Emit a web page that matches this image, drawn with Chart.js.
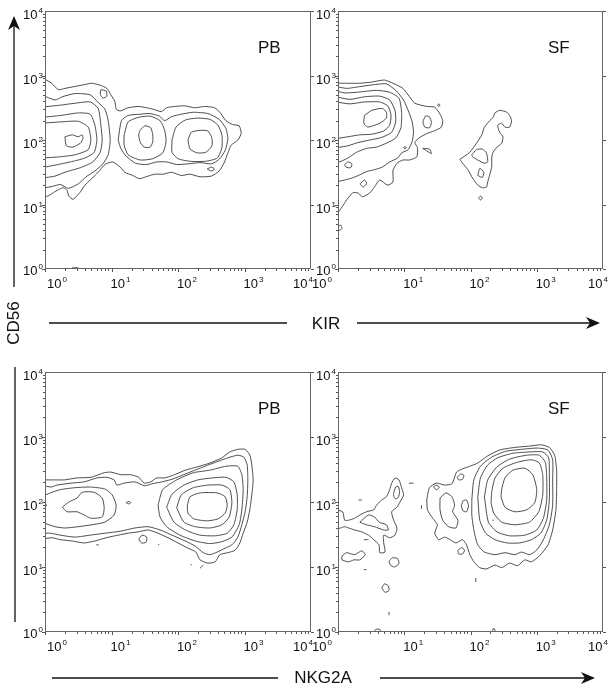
<!DOCTYPE html>
<html>
<head>
<meta charset="utf-8">
<script src="https://cdn.jsdelivr.net/npm/chart.js@4.4.0/dist/chart.umd.min.js"></script>
<style>
  html, body { margin: 0; padding: 0; background: #fff; overflow: hidden; }
  #page { position: relative; width: 611px; height: 691px; font-family: "Liberation Sans", Arial, sans-serif; }
  #page canvas { position: absolute; }
  #arrows { position: absolute; left: 0; top: 0; }
  .title { position: absolute; font-size: 17px; color: #111; white-space: nowrap; transform: translate(-50%, -50%); }
</style>
</head>
<body>
<div id="page">
  <canvas id="pbKir" width="323" height="293" style="left:0px;top:0px"></canvas>
  <canvas id="sfKir" width="318" height="293" style="left:293px;top:0px"></canvas>
  <canvas id="pbNkg" width="323" height="295" style="left:0px;top:361px"></canvas>
  <canvas id="sfNkg" width="318" height="295" style="left:293px;top:361px"></canvas>
  <svg id="arrows" width="611" height="691">
    <g stroke="#111" stroke-width="1.3">
      <line x1="14" y1="287" x2="14" y2="26"/>
      <line x1="15" y1="367" x2="15" y2="622"/>
      <line x1="49" y1="323" x2="287" y2="323"/>
      <line x1="357" y1="323" x2="590" y2="323"/>
      <line x1="52" y1="678" x2="278" y2="678"/>
      <line x1="380" y1="678" x2="585" y2="678"/>
    </g>
    <g fill="#111">
      <path d="M14,16 L20,30 L14,26 L8,30 Z"/>
      <path d="M600,323 L586,317 L590,323 L586,329 Z"/>
      <path d="M595,678 L581,672 L585,678 L581,684 Z"/>
    </g>
  </svg>
  <div class="title" id="yTitle" style="left:14px;top:323px;transform:translate(-50%,-50%) rotate(-90deg)"></div>
  <div class="title" id="xTitleTop" style="left:326px;top:324px"></div>
  <div class="title" id="xTitleBottom" style="left:323px;top:678px"></div>
</div>
<script>
// axes are log10 decades: 0 -> 10^0 ... 4 -> 10^4
const tickExponents = [0, 1, 2, 3, 4];
const panelTitles = ['PB', 'SF', 'PB', 'SF'];
const xAxisTitles = ['KIR', 'NKG2A'];
const yAxisTitle = 'CD56';

// ---- PB, CD56 vs KIR ----
const pbKirOuter = [[-0.05,2.97],[0.1,2.88],[0.2,2.78],[0.3,2.8],[0.45,2.83],[0.6,2.86],[0.7,2.88],[0.83,2.85],[0.93,2.8],[0.99,2.7],[1.05,2.6],[1.07,2.48],[1.13,2.45],[1.25,2.5],[1.4,2.52],[1.53,2.5],[1.65,2.47],[1.75,2.44],[1.83,2.5],[1.95,2.52],[2.1,2.53],[2.25,2.5],[2.4,2.52],[2.55,2.5],[2.63,2.43],[2.72,2.3],[2.82,2.24],[2.92,2.22],[2.95,2.1],[2.9,2.0],[2.8,1.92],[2.75,1.8],[2.7,1.66],[2.62,1.52],[2.5,1.44],[2.33,1.43],[2.18,1.47],[2.05,1.45],[1.9,1.5],[1.78,1.47],[1.65,1.47],[1.52,1.43],[1.42,1.4],[1.32,1.45],[1.2,1.5],[1.13,1.58],[1.02,1.66],[0.9,1.62],[0.8,1.5],[0.68,1.38],[0.6,1.3],[0.52,1.18],[0.42,1.08],[0.36,1.13],[0.33,1.22],[0.28,1.26],[0.22,1.24],[0.15,1.2],[0.06,1.14],[-0.05,1.1]];
const pbKirNotch = [[0.84,2.78],[0.92,2.76],[0.93,2.68],[0.87,2.65],[0.83,2.71],[0.84,2.78]];
const pbKirLeft2 = [[-0.05,2.70],[0.15,2.62],[0.26,2.67],[0.45,2.72],[0.68,2.70],[0.80,2.58],[0.90,2.48],[0.95,2.30],[0.98,2.0],[0.95,1.77],[0.87,1.63],[0.75,1.52],[0.62,1.43],[0.50,1.32],[0.35,1.25],[0.23,1.31],[0.11,1.28],[-0.05,1.25]];
const pbKirLeft3 = [[-0.05,2.51],[0.23,2.54],[0.45,2.57],[0.68,2.59],[0.80,2.49],[0.84,2.23],[0.86,2.0],[0.83,1.81],[0.72,1.66],[0.53,1.57],[0.30,1.50],[0.15,1.44],[-0.05,1.41]];
const pbKirLeft4 = [[-0.05,2.35],[0.23,2.38],[0.50,2.42],[0.68,2.40],[0.75,2.23],[0.78,2.0],[0.74,1.81],[0.60,1.72],[0.38,1.66],[0.15,1.61],[-0.05,1.57]];
const pbKirLeft5 = [[-0.05,2.26],[0.23,2.28],[0.50,2.29],[0.65,2.20],[0.69,2.0],[0.65,1.85],[0.45,1.77],[0.23,1.74],[-0.05,1.72]];
const pbKirLeftCore = [[0.30,2.05],[0.41,2.08],[0.50,2.05],[0.56,2.08],[0.57,2.02],[0.53,1.95],[0.42,1.89],[0.32,1.91],[0.30,2.05]];
const pbKirPair2 = [[1.10,2.0],[1.15,2.3],[1.25,2.38],[1.43,2.4],[1.58,2.41],[1.72,2.37],[1.8,2.3],[1.9,2.36],[2.05,2.4],[2.23,2.43],[2.45,2.41],[2.62,2.32],[2.72,2.18],[2.75,2.02],[2.71,1.84],[2.62,1.7],[2.5,1.63],[2.33,1.65],[2.15,1.63],[1.98,1.62],[1.83,1.66],[1.68,1.66],[1.53,1.62],[1.36,1.64],[1.22,1.75],[1.14,1.87],[1.10,2.0]];
const pbKirMid3 = [[1.19,2.08],[1.25,2.28],[1.40,2.35],[1.58,2.37],[1.73,2.30],[1.80,2.15],[1.82,1.97],[1.77,1.80],[1.62,1.71],[1.43,1.69],[1.25,1.77],[1.19,1.92],[1.19,2.08]];
const pbKirMidCore = [[1.43,2.15],[1.50,2.22],[1.59,2.19],[1.62,2.08],[1.62,1.97],[1.58,1.89],[1.49,1.89],[1.43,1.97],[1.41,2.08],[1.43,2.15]];
const pbKirRight3 = [[1.91,2.0],[1.97,2.2],[2.11,2.31],[2.29,2.34],[2.48,2.32],[2.60,2.23],[2.66,2.08],[2.66,1.88],[2.59,1.72],[2.41,1.67],[2.18,1.67],[2.0,1.71],[1.91,1.81],[1.91,2.0]];
const pbKirRightCore = [[2.15,2.0],[2.20,2.12],[2.33,2.15],[2.45,2.14],[2.51,2.03],[2.51,1.91],[2.42,1.81],[2.29,1.80],[2.18,1.86],[2.15,2.0]];
const pbKirSpeck = [[2.44,1.55],[2.5,1.58],[2.55,1.55],[2.5,1.52],[2.44,1.55]];
const pbKirFloor = [[0.41,0.02],[0.5,0.02]];

// ---- SF, CD56 vs KIR ----
const sfKirOuter = [[-0.03,2.88],[0.10,2.88],[0.33,2.88],[0.52,2.90],[0.70,2.93],[0.83,2.88],[0.98,2.80],[1.08,2.67],[1.16,2.57],[1.34,2.52],[1.46,2.51],[1.54,2.40],[1.58,2.30],[1.56,2.20],[1.45,2.14],[1.34,2.10],[1.22,2.03],[1.16,1.96],[1.20,1.88],[1.19,1.74],[1.08,1.69],[0.98,1.69],[0.89,1.64],[0.83,1.53],[0.83,1.35],[0.75,1.30],[0.63,1.38],[0.55,1.27],[0.48,1.18],[0.37,1.12],[0.30,1.18],[0.22,1.18],[0.13,1.07],[0.06,0.96],[0.01,0.89],[-0.03,0.86]];
const sfKirRing2 = [[-0.03,2.83],[0.13,2.80],[0.28,2.82],[0.48,2.85],[0.73,2.87],[0.87,2.77],[0.99,2.62],[1.07,2.43],[1.12,2.28],[1.14,2.12],[1.12,1.98],[1.06,1.85],[0.96,1.80],[0.90,1.72],[0.78,1.66],[0.67,1.58],[0.55,1.54],[0.43,1.51],[0.33,1.46],[0.21,1.41],[0.10,1.38],[-0.03,1.35]];
const sfKirRing3 = [[-0.03,2.76],[0.10,2.73],[0.28,2.74],[0.58,2.77],[0.78,2.74],[0.92,2.65],[0.96,2.43],[0.95,2.19],[0.87,2.03],[0.73,1.95],[0.58,1.89],[0.43,1.87],[0.28,1.81],[0.18,1.74],[0.09,1.69],[-0.03,1.64]];
const sfKirRing4 = [[-0.03,2.67],[0.18,2.63],[0.40,2.67],[0.63,2.68],[0.78,2.62],[0.86,2.46],[0.87,2.28],[0.81,2.12],[0.66,2.04],[0.48,2.0],[0.30,1.96],[0.15,1.91],[-0.03,1.88]];
const sfKirRing5 = [[-0.03,2.59],[0.18,2.56],[0.40,2.59],[0.63,2.59],[0.75,2.53],[0.80,2.39],[0.78,2.23],[0.69,2.14],[0.51,2.09],[0.33,2.08],[0.15,2.05],[-0.03,2.02]];
const sfKirCore = [[0.40,2.38],[0.51,2.46],[0.67,2.49],[0.73,2.43],[0.73,2.34],[0.63,2.26],[0.45,2.20],[0.39,2.26],[0.40,2.38]];
const sfKirLobe = [[1.28,2.28],[1.32,2.37],[1.38,2.36],[1.41,2.27],[1.38,2.19],[1.31,2.20],[1.28,2.28]];
const sfKirWedge = [[1.28,1.87],[1.38,1.86],[1.41,1.79],[1.34,1.83],[1.28,1.87]];
const sfKirDotA = [[0.99,1.88],[1.01,1.90],[1.03,1.88],[1.01,1.86],[0.99,1.88]];
const sfKirDotB = [[1.50,2.54],[1.52,2.56],[1.54,2.54],[1.52,2.52],[1.50,2.54]];
const sfKirLowA = [[0.10,1.62],[0.15,1.66],[0.21,1.63],[0.19,1.57],[0.12,1.58],[0.10,1.62]];
const sfKirLowB = [[0.33,1.32],[0.40,1.38],[0.43,1.33],[0.38,1.27],[0.33,1.32]];
const sfKirEdge = [[-0.01,0.65],[0.04,0.68],[0.06,0.63],[0.02,0.60],[-0.01,0.65]];
const sfKirIsland = [[1.84,1.70],[1.99,1.81],[2.09,1.95],[2.17,2.08],[2.21,2.20],[2.29,2.30],[2.34,2.35],[2.37,2.42],[2.44,2.46],[2.55,2.43],[2.59,2.38],[2.62,2.30],[2.59,2.20],[2.52,2.20],[2.47,2.26],[2.41,2.23],[2.44,2.12],[2.49,2.05],[2.47,1.95],[2.40,1.89],[2.34,1.81],[2.32,1.72],[2.32,1.58],[2.29,1.46],[2.26,1.35],[2.24,1.27],[2.18,1.26],[2.11,1.30],[2.03,1.41],[1.96,1.54],[1.88,1.64],[1.84,1.70]];
const sfKirIslandA = [[2.02,1.77],[2.09,1.85],[2.18,1.86],[2.24,1.80],[2.26,1.66],[2.21,1.64],[2.11,1.69],[2.03,1.74],[2.02,1.77]];
const sfKirIslandB = [[2.11,1.45],[2.14,1.56],[2.20,1.50],[2.18,1.42],[2.11,1.45]];
const sfKirIslandDot = [[2.12,1.10],[2.15,1.13],[2.18,1.10],[2.15,1.07],[2.12,1.10]];

// ---- PB, CD56 vs NKG2A ----
const pbNkgOuter = [[-0.05,2.34],[0.14,2.34],[0.29,2.34],[0.48,2.37],[0.69,2.38],[0.89,2.45],[0.99,2.46],[1.14,2.42],[1.29,2.42],[1.41,2.38],[1.49,2.29],[1.59,2.31],[1.68,2.37],[1.80,2.37],[1.95,2.42],[2.11,2.49],[2.29,2.54],[2.48,2.60],[2.66,2.68],[2.78,2.77],[2.90,2.81],[3.01,2.81],[3.08,2.72],[3.11,2.57],[3.13,2.34],[3.11,2.11],[3.08,1.88],[3.04,1.69],[2.98,1.52],[2.93,1.37],[2.86,1.26],[2.75,1.22],[2.63,1.19],[2.56,1.08],[2.45,1.06],[2.33,1.11],[2.27,1.23],[2.15,1.29],[2.0,1.37],[1.85,1.45],[1.70,1.52],[1.55,1.57],[1.40,1.54],[1.25,1.52],[1.10,1.49],[0.92,1.45],[0.75,1.40],[0.59,1.37],[0.41,1.40],[0.23,1.42],[0.11,1.45],[-0.05,1.43]];
const pbNkgBand2 = [[-0.05,2.26],[0.09,2.23],[0.18,2.26],[0.39,2.29],[0.59,2.31],[0.78,2.37],[0.93,2.38],[1.04,2.34],[1.08,2.26],[1.19,2.29],[1.35,2.31],[1.50,2.25],[1.61,2.28],[1.76,2.31],[1.91,2.35],[2.11,2.43],[2.33,2.52],[2.56,2.61],[2.75,2.68],[2.90,2.72],[2.99,2.69],[3.04,2.57],[3.05,2.34],[3.04,2.08],[3.01,1.85],[2.96,1.65],[2.90,1.46],[2.81,1.34],[2.71,1.29],[2.59,1.23],[2.48,1.19],[2.38,1.22],[2.26,1.32],[2.11,1.40],[1.91,1.49],[1.73,1.57],[1.55,1.62],[1.35,1.60],[1.13,1.55],[0.90,1.52],[0.68,1.49],[0.45,1.46],[0.23,1.49],[0.08,1.52],[-0.05,1.52]];
const pbNkgRight3 = [[1.70,1.95],[1.77,2.19],[1.98,2.34],[2.23,2.45],[2.48,2.49],[2.72,2.55],[2.90,2.55],[2.96,2.42],[2.98,2.19],[2.96,1.88],[2.92,1.65],[2.81,1.46],[2.66,1.39],[2.48,1.36],[2.26,1.40],[2.03,1.49],[1.83,1.62],[1.73,1.77],[1.70,1.95]];
const pbNkgRight4 = [[1.83,1.92],[1.91,2.12],[2.09,2.26],[2.30,2.34],[2.51,2.37],[2.72,2.38],[2.84,2.31],[2.89,2.11],[2.89,1.88],[2.84,1.65],[2.74,1.52],[2.56,1.48],[2.33,1.49],[2.11,1.57],[1.94,1.69],[1.83,1.92]];
const pbNkgRight5 = [[1.98,1.91],[2.05,2.11],[2.23,2.22],[2.45,2.26],[2.66,2.26],[2.78,2.19],[2.81,1.99],[2.77,1.77],[2.66,1.65],[2.48,1.60],[2.26,1.62],[2.09,1.69],[1.98,1.91]];
const pbNkgRightCore = [[2.14,1.95],[2.18,2.08],[2.33,2.14],[2.59,2.14],[2.71,2.08],[2.74,1.95],[2.71,1.83],[2.60,1.74],[2.44,1.71],[2.24,1.74],[2.15,1.83],[2.14,1.95]];
const pbNkgLeft3 = [[-0.05,2.08],[0.08,2.14],[0.23,2.19],[0.45,2.22],[0.68,2.23],[0.90,2.20],[1.01,2.11],[1.07,1.95],[1.04,1.80],[0.90,1.69],[0.71,1.65],[0.50,1.62],[0.30,1.60],[0.15,1.62],[-0.05,1.69]];
const pbNkgLeftCore = [[0.26,1.92],[0.36,2.00],[0.48,2.06],[0.56,2.15],[0.74,2.15],[0.86,2.06],[0.89,1.91],[0.86,1.77],[0.69,1.75],[0.59,1.80],[0.48,1.85],[0.33,1.85],[0.26,1.92]];
const pbNkgBelow = [[1.41,1.43],[1.46,1.49],[1.53,1.46],[1.52,1.38],[1.45,1.37],[1.41,1.43]];
const pbNkgGap = [[1.22,1.99],[1.26,2.01],[1.29,1.99],[1.26,1.97],[1.22,1.99]];
const pbNkgEdge = [[-0.05,1.98],[0.03,1.95],[-0.05,1.91]];
const pbNkgDashA = [[0.77,1.34],[0.81,1.34]];
const pbNkgDashB = [[1.70,1.34],[1.72,1.35]];
const pbNkgDashC = [[2.19,1.03],[2.21,1.04]];
const pbNkgDashD = [[2.33,0.98],[2.38,1.03]];

// ---- SF, CD56 vs NKG2A ----
const sfNkgOuter = [[1.34,2.03],[1.38,2.22],[1.49,2.29],[1.61,2.26],[1.72,2.28],[1.79,2.46],[1.88,2.51],[1.99,2.55],[2.11,2.60],[2.26,2.71],[2.44,2.80],[2.67,2.84],[2.89,2.86],[3.07,2.88],[3.19,2.84],[3.27,2.72],[3.30,2.49],[3.30,2.19],[3.29,1.88],[3.24,1.57],[3.17,1.34],[3.04,1.17],[2.92,1.08],[2.82,1.11],[2.71,1.02],[2.59,1.06],[2.47,0.99],[2.37,1.03],[2.24,0.97],[2.14,0.99],[2.05,1.08],[1.99,1.19],[1.94,1.34],[1.88,1.42],[1.78,1.37],[1.69,1.42],[1.61,1.46],[1.52,1.42],[1.46,1.52],[1.50,1.65],[1.43,1.75],[1.35,1.88],[1.34,2.03]];
const sfNkgRing2 = [[2.02,2.03],[2.05,2.34],[2.15,2.55],[2.32,2.69],[2.53,2.78],[2.77,2.81],[3.01,2.83],[3.17,2.80],[3.24,2.65],[3.24,2.34],[3.24,1.95],[3.19,1.65],[3.10,1.42],[3.00,1.26],[2.89,1.19],[2.77,1.23],[2.67,1.19],[2.52,1.22],[2.37,1.19],[2.21,1.23],[2.11,1.34],[2.05,1.57],[2.02,1.80],[2.02,2.03]];
const sfNkgRing3 = [[2.11,2.08],[2.15,2.37],[2.26,2.57],[2.41,2.68],[2.64,2.75],[2.89,2.77],[3.09,2.77],[3.18,2.68],[3.19,2.42],[3.19,2.03],[3.15,1.72],[3.06,1.52],[2.92,1.42],[2.74,1.37],[2.55,1.37],[2.37,1.42],[2.23,1.52],[2.14,1.72],[2.11,2.08]];
const sfNkgRing4 = [[2.21,2.08],[2.26,2.34],[2.40,2.54],[2.59,2.66],[2.85,2.72],[3.04,2.72],[3.13,2.61],[3.15,2.37],[3.15,2.03],[3.10,1.75],[3.00,1.57],[2.82,1.49],[2.59,1.48],[2.40,1.54],[2.27,1.69],[2.21,2.08]];
const sfNkgRing5 = [[2.31,1.99],[2.32,2.15],[2.37,2.37],[2.49,2.52],[2.70,2.61],[2.92,2.65],[3.04,2.60],[3.09,2.42],[3.09,2.11],[3.03,1.85],[2.89,1.69],[2.67,1.65],[2.47,1.69],[2.35,1.83],[2.31,1.99]];
const sfNkgCore = [[2.46,2.08],[2.47,2.19],[2.52,2.37],[2.64,2.49],[2.82,2.52],[2.94,2.42],[3.00,2.19],[2.97,1.99],[2.85,1.88],[2.67,1.85],[2.52,1.92],[2.46,2.08]];
const sfNkgMid2 = [[1.54,2.06],[1.63,2.14],[1.72,2.08],[1.76,1.95],[1.73,1.85],[1.81,1.72],[1.78,1.60],[1.67,1.62],[1.58,1.72],[1.54,1.88],[1.54,2.06]];
const sfNkgMidA = [[1.80,2.38],[1.85,2.43],[1.90,2.41],[1.88,2.35],[1.82,2.34],[1.80,2.38]];
const sfNkgMidB = [[1.86,1.94],[1.89,2.02],[1.94,2.03],[1.97,1.94],[1.94,1.85],[1.89,1.86],[1.86,1.94]];
const sfNkgMidC = [[1.81,1.25],[1.86,1.30],[1.91,1.26],[1.88,1.20],[1.82,1.20],[1.81,1.25]];
const sfNkgMidD = [[1.44,2.23],[1.48,2.26],[1.53,2.23],[1.49,2.19],[1.44,2.23]];
const sfNkgLeft1 = [[-0.05,1.88],[0.07,1.85],[0.10,1.72],[0.16,1.72],[0.25,1.75],[0.33,1.80],[0.43,1.85],[0.54,1.88],[0.58,1.95],[0.66,2.03],[0.73,2.08],[0.78,2.19],[0.81,2.29],[0.86,2.37],[0.92,2.34],[0.96,2.22],[0.99,2.11],[0.93,1.99],[0.89,1.92],[0.81,1.85],[0.84,1.72],[0.89,1.60],[0.86,1.49],[0.78,1.45],[0.69,1.49],[0.69,1.37],[0.71,1.23],[0.63,1.22],[0.62,1.34],[0.54,1.42],[0.46,1.49],[0.36,1.54],[0.25,1.57],[0.16,1.60],[0.10,1.62],[0.04,1.60],[-0.05,1.58]];
const sfNkgLeft2 = [[0.33,1.69],[0.46,1.80],[0.55,1.77],[0.62,1.69],[0.73,1.65],[0.76,1.57],[0.69,1.57],[0.55,1.62],[0.43,1.65],[0.33,1.69]];
const sfNkgLeftLobe = [[0.84,2.14],[0.87,2.23],[0.91,2.24],[0.93,2.16],[0.91,2.07],[0.87,2.05],[0.84,2.09],[0.84,2.14]];
const sfNkgLowA = [[0.06,1.17],[0.13,1.22],[0.25,1.19],[0.36,1.25],[0.41,1.19],[0.33,1.11],[0.24,1.11],[0.16,1.08],[0.06,1.11],[0.06,1.17]];
const sfNkgLowB = [[0.77,1.09],[0.82,1.14],[0.90,1.13],[0.92,1.05],[0.85,1.00],[0.79,1.03],[0.77,1.09]];
const sfNkgLowC = [[0.66,0.68],[0.70,0.74],[0.76,0.71],[0.77,0.64],[0.71,0.61],[0.66,0.68]];
const sfNkgFloorA = [[0.54,-0.02],[0.57,0.04],[0.63,0.04],[0.66,-0.02]];
const sfNkgFloorB = [[2.32,-0.02],[2.35,0.06],[2.39,-0.02]];
const sfNkgDashes = [
  [[0.31,2.03],[0.36,2.03]], [[1.07,2.29],[1.14,2.29]], [[0.39,1.42],[0.46,1.42]],
  [[0.39,0.96],[0.43,0.96]], [[1.26,1.95],[1.26,1.89]], [[0.77,0.31],[0.77,0.26]],
  [[2.08,0.83],[2.08,0.77]], [[2.33,1.72],[2.35,1.72]]
];

const baseFont = '13px "Liberation Sans Narrow", "Liberation Sans", Arial, sans-serif';
const supFont = '8px "Liberation Sans", Arial, sans-serif';

function drawPower(ctx, exp, x, y, align) {
  ctx.font = baseFont;
  const wb = ctx.measureText('10').width;
  ctx.font = supFont;
  const ws = ctx.measureText(String(exp)).width;
  const total = wb + 1 + ws;
  const sx = align === 'left' ? x : align === 'right' ? x - total : x - total / 2;
  ctx.textAlign = 'left';
  ctx.textBaseline = 'alphabetic';
  ctx.font = baseFont;
  ctx.fillText('10', sx, y);
  ctx.font = supFont;
  ctx.fillText(String(exp), sx + wb + 1, y - 6);
}

// frame, log ticks, 10^n labels and the panel tag
const panelFrame = {
  id: 'panelFrame',
  afterDraw(chart, args, opts) {
    const { ctx, chartArea: a, scales: { x, y } } = chart;
    ctx.save();
    ctx.strokeStyle = '#666';
    ctx.lineWidth = 1;
    ctx.strokeRect(a.left + 0.5, a.top + 0.5, a.width - 1, a.height - 1);

    ctx.strokeStyle = '#555';
    ctx.beginPath();
    for (let d = 0; d < 4; d++) {
      for (let k = 1; k < 10; k++) {
        const v = d + Math.log10(k);
        const len = k === 1 ? 3 : 2;
        const px = Math.round(x.getPixelForValue(v)) + 0.5;
        ctx.moveTo(px, a.bottom); ctx.lineTo(px, a.bottom + len);
        const py = Math.round(y.getPixelForValue(v)) + 0.5;
        ctx.moveTo(a.left, py); ctx.lineTo(a.left - len, py);
      }
    }
    tickExponents.forEach(e => {
      const py = Math.round(y.getPixelForValue(e)) + 0.5;
      ctx.moveTo(a.right, py); ctx.lineTo(a.right + 3, py);
    });
    ctx.stroke();

    ctx.fillStyle = '#111';
    tickExponents.forEach((e, i) => {
      const tx = x.getPixelForValue(e);
      const ty = y.getPixelForValue(e);
      let align = 'left', lx = tx - 1;
      if (i === 0) {
        if (opts.side === 'left') { lx = tx + 2; } else { align = 'right'; lx = tx - 6; }
      } else if (i === tickExponents.length - 1) {
        align = 'right';
        lx = opts.side === 'left' ? tx + 2 : tx + 5;
      }
      drawPower(ctx, e, lx, a.bottom + 19, align);
      drawPower(ctx, e, a.left - 2, ty + (i === 0 ? 6 : 8), 'right');
    });

    ctx.font = '17px "Liberation Sans", Arial, sans-serif';
    ctx.textAlign = 'left';
    ctx.textBaseline = 'alphabetic';
    ctx.fillText(opts.title, a.left + (opts.side === 'left' ? 213 : 210), a.top + 42);
    ctx.restore();
  }
};

function makePanel(id, rings, title, side, height) {
  const canvas = document.getElementById(id);
  const rightPad = canvas.width - 45 - (side === 'left' ? 266 : 265);
  return new Chart(canvas, {
    type: 'scatter',
    data: {
      datasets: rings.map(r => ({
        data: r.map(([x, y]) => ({ x, y })),
        showLine: true,
        fill: false,
        borderColor: '#3a3a3a',
        borderWidth: 0.9,
        pointRadius: 0,
        tension: 0.2
      }))
    },
    options: {
      responsive: false,
      animation: false,
      events: [],
      layout: { autoPadding: false, padding: { left: 45, top: 11, right: rightPad, bottom: 24 } },
      scales: {
        x: { type: 'linear', min: 0, max: 4, display: false },
        y: { type: 'linear', min: 0, max: 4, display: false }
      },
      plugins: {
        legend: { display: false },
        tooltip: { enabled: false },
        panelFrame: { title, side }
      }
    },
    plugins: [panelFrame]
  });
}

makePanel('pbKir', [pbKirOuter, pbKirNotch, pbKirLeft2, pbKirLeft3, pbKirLeft4, pbKirLeft5, pbKirLeftCore,
  pbKirPair2, pbKirMid3, pbKirMidCore, pbKirRight3, pbKirRightCore, pbKirSpeck, pbKirFloor], panelTitles[0], 'left');
makePanel('sfKir', [sfKirOuter, sfKirRing2, sfKirRing3, sfKirRing4, sfKirRing5, sfKirCore, sfKirLobe, sfKirWedge,
  sfKirDotA, sfKirDotB, sfKirLowA, sfKirLowB, sfKirEdge, sfKirIsland, sfKirIslandA, sfKirIslandB, sfKirIslandDot], panelTitles[1], 'right');
makePanel('pbNkg', [pbNkgOuter, pbNkgBand2, pbNkgRight3, pbNkgRight4, pbNkgRight5, pbNkgRightCore, pbNkgLeft3, pbNkgLeftCore,
  pbNkgBelow, pbNkgGap, pbNkgEdge, pbNkgDashA, pbNkgDashB, pbNkgDashC, pbNkgDashD], panelTitles[2], 'left');
makePanel('sfNkg', [sfNkgOuter, sfNkgRing2, sfNkgRing3, sfNkgRing4, sfNkgRing5, sfNkgCore, sfNkgMid2, sfNkgMidA, sfNkgMidB,
  sfNkgMidC, sfNkgMidD, sfNkgLeft1, sfNkgLeft2, sfNkgLeftLobe, sfNkgLowA, sfNkgLowB, sfNkgLowC, sfNkgFloorA, sfNkgFloorB,
  ...sfNkgDashes], panelTitles[3], 'right');

document.getElementById('yTitle').textContent = yAxisTitle;
document.getElementById('xTitleTop').textContent = xAxisTitles[0];
document.getElementById('xTitleBottom').textContent = xAxisTitles[1];
</script>
</body>
</html>
